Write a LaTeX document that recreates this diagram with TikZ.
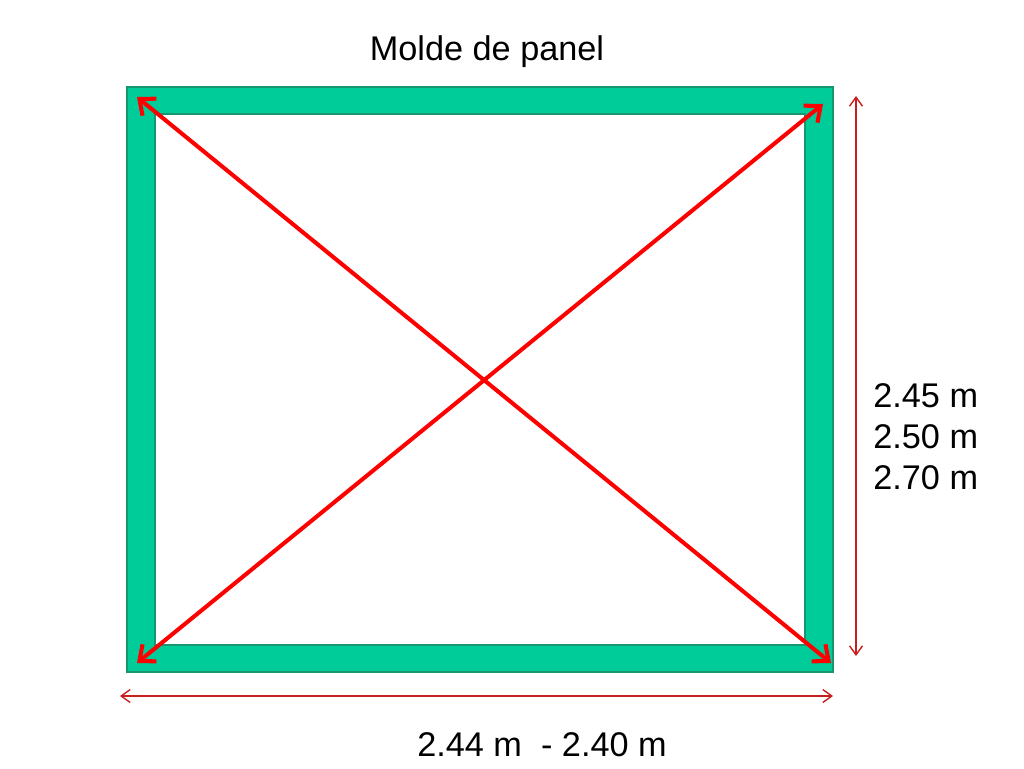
\documentclass[tikz,border=0pt]{standalone}
\usepackage{fontspec}
\setmainfont{Liberation Sans}
\usetikzlibrary{arrows.meta}
\definecolor{moldgreen}{RGB}{0,204,153}
\definecolor{moldedge}{RGB}{24,150,112}
\definecolor{dimred}{RGB}{200,30,30}
\begin{document}
\begin{tikzpicture}[x=0.02cm, y=-0.02cm]
\tikzset{>=latex}
\tikzset{diag/.style={red, line width=2.3pt, {Straight Barb[length=2.6mm, width=4.4mm]}-{Straight Barb[length=2.6mm, width=4.4mm]}}}
\tikzset{dimline/.style={dimred, line width=0.8pt, {Straight Barb[length=1.8mm, width=2.6mm]}-{Straight Barb[length=1.8mm, width=2.6mm]}}}
\tikzset{label/.style={font=\fontsize{19.5}{23.3}\selectfont}}
\useasboundingbox (0,0) rectangle (1024,768);

% frame of the mould
\coordinate (outer-tl) at (127,87);
\coordinate (outer-br) at (833,672);
\coordinate (inner-tl) at (155,114);
\coordinate (inner-br) at (805,645);
\fill[moldgreen, draw=moldedge, line width=1.2pt, even odd rule] (outer-tl) rectangle (outer-br) (inner-tl) rectangle (inner-br);

\node[label] (title) at (487,52) {Molde de panel};

% diagonals
\coordinate (tl) at (137,97);
\coordinate (br) at (831,663);
\coordinate (bl) at (137,663);
\coordinate (tr) at (823,104);
\draw[diag] (tl) -- (br);
\draw[diag] (bl) -- (tr);

% dimensions
\coordinate (h-top) at (856,96);
\coordinate (h-bot) at (856,656);
\draw[dimline] (h-top) -- (h-bot);
\node[label, anchor=west, align=left, inner sep=0pt] (height) at (873,437) {2.45 m\\2.50 m\\2.70 m};

\coordinate (w-left) at (120,696);
\coordinate (w-right) at (833,696);
\draw[dimline] (w-left) -- (w-right);
\node[label] (width) at (542,745) {2.44 m\ \ - 2.40 m};

\end{tikzpicture}
\end{document}
